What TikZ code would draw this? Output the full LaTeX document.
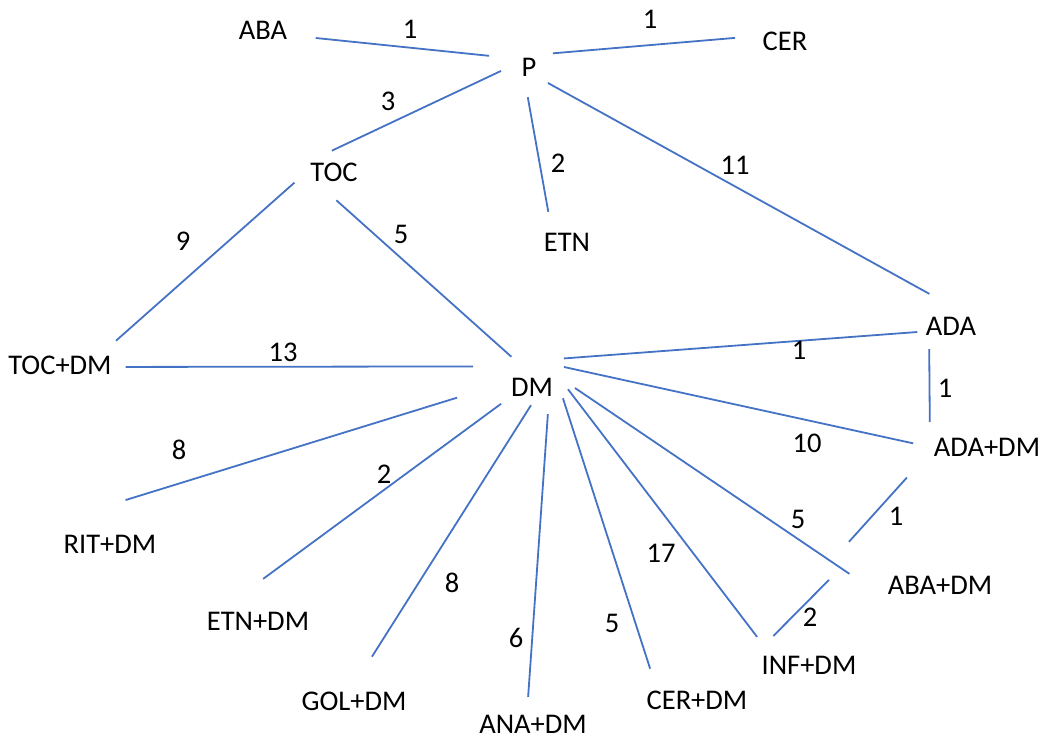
\documentclass[tikz,border=0pt]{standalone}
\usepackage{fontspec}
\setmainfont{Carlito}
\usepackage{tikz}
\definecolor{linkblue}{RGB}{68,114,196}

\begin{document}
\begin{tikzpicture}[x=1pt,y=-1pt,
			every node/.style={inner sep=4pt,outer sep=0pt,font=\fontsize{28.5}{34}\selectfont},
			link/.style={draw=linkblue,line width=1.8pt},]
	\useasboundingbox (0,0) rectangle (1042,740);
	% groups
	\node (ABA) at (263,30) {ABA};
	\node (P) at (529,67) {P};
	\node (CER) at (785,41) {CER};
	\node (TOC) at (334,172) {TOC};
	\node (ETN) at (567,242) {ETN};
	\node (ADA) at (951,326) {ADA};
	\node (TOCDM) at (60,365) {TOC+DM};
	\node[inner xsep=12pt,inner ysep=30pt] (DM) at (532,387) {DM};
	\node (ADADM) at (987,447) {ADA+DM};
	\node[inner ysep=30pt] (RITDM) at (110,544) {RIT+DM};
	\node[inner xsep=66pt] (ABADM) at (940,585) {ABA+DM};
	\node (ETNDM) at (258,621) {ETN+DM};
	\node (INFDM) at (809,665) {INF+DM};
	\node (GOLDM) at (354,701) {GOL+DM};
	\node (ANADM) at (533,724) {ANA+DM};
	\node (CERDM) at (697,700) {CER+DM};
	% links
	\draw[link,shorten <=24.8pt,shorten >=28.7pt] (ABA.349.2) -- (P.144.9);
	\draw[link,shorten <=12.6pt,shorten >=23.8pt] (P.48.8) -- (CER.169.2);
	\draw[link,shorten <=18.4pt,shorten >=18.7pt] (P.161.1) -- (TOC.145.5);
	\draw[link,shorten <=17.3pt,shorten >=17.3pt] (P.252.9) -- (ETN.140.9);
	\draw[link,shorten <=8.7pt,shorten >=39.2pt] (P.314) -- (ADA.46.6);
	\draw[link,shorten <=16pt,shorten >=16.6pt] (TOC.180.8) -- (TOCDM.17);
	\draw[link,shorten <=22.4pt,shorten >=-13.4pt] (TOC.223.7) -- (DM.128.5);
	\draw[link,shorten <=10pt,shorten >=26pt] (TOCDM.358) -- (DM.148.8);
	\draw[link,shorten <=-1pt,shorten >=4.7pt] (DM.41.4) -- (ADA.191);
	\draw[link,shorten <=10pt,shorten >=12pt] (ADA.211.8) -- (ADADM.north west);
	\draw[link,shorten <=-1pt,shorten >=17.1pt] (DM.31) -- (ADADM.180.7);
	\draw[link,shorten <=34.4pt,shorten >=40.5pt] (ADADM.185.1) -- (ABADM.north west);
	\draw[link,shorten <=12.1pt,shorten >=-3.6pt] (DM.10) -- (ABADM.172.1);
	\draw[link,shorten <=-10.1pt,shorten >=22.3pt] (ABADM.181.4) -- (INFDM.north west);
	\draw[link,shorten <=5pt,shorten >=18.9pt] (DM.3.3) -- (INFDM.162.2);
	\draw[link,shorten <=-6.5pt,shorten >=18.9pt] (DM.332.5) -- (CERDM.162.1);
	\draw[link,shorten <=-12pt,shorten >=14pt] (DM.291.3) -- (ANADM.114.5);
	\draw[link,shorten <=-24.8pt,shorten >=36.7pt] (DM.250) -- (GOLDM.97);
	\draw[link,shorten <=-2.5pt,shorten >=48.9pt] (DM.209.3) -- (ETNDM.159.3);
	\draw[link,shorten <=44pt,shorten >=16.3pt] (DM.176.7) -- (RITDM.north);
	% weights
	\node (wABAP) at (410,29) {1};
	\node (wPCER) at (650,19) {1};
	\node (wPTOC) at (388,101) {3};
	\node (wPETN) at (558,163) {2};
	\node (wPADA) at (735,165) {11};
	\node (wTOCTOCDM) at (183,241) {9};
	\node (wTOCDM) at (401,234) {5};
	\node (wTOCDMDM) at (283,352) {13};
	\node (wDMADA) at (799,350) {1};
	\node (wADAADADM) at (945,388) {1};
	\node (wDMADADM) at (807,443) {10};
	\node (wADADMABADM) at (896,516) {1};
	\node (wDMABADM) at (798,519) {5};
	\node (wDMINFDM) at (661,553) {17};
	\node (wABADMINFDM) at (810,617) {2};
	\node (wDMCERDM) at (612,623) {5};
	\node (wDMANADM) at (516,638) {6};
	\node (wDMGOLDM) at (452,583) {8};
	\node (wDMETNDM) at (384,474) {2};
	\node (wDMRITDM) at (179,450) {8};
\end{tikzpicture}
\end{document}
